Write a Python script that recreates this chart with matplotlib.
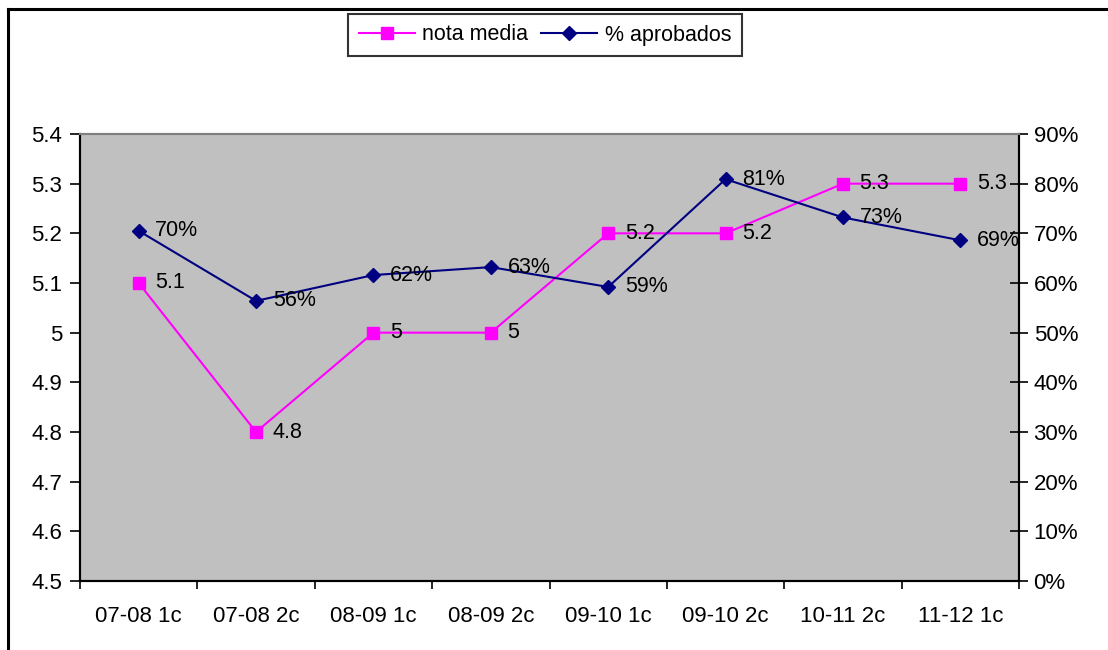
import matplotlib
matplotlib.use("Agg")
import matplotlib.pyplot as plt
from matplotlib.lines import Line2D
import numpy as np

plt.rcParams['font.family'] = ['Liberation Sans', 'DejaVu Sans']

categories = ["07-08 1c", "07-08 2c", "08-09 1c", "08-09 2c", "09-10 1c", "09-10 2c", "10-11 2c", "11-12 1c"]
nota_media = [5.1, 4.8, 5.0, 5.0, 5.2, 5.2, 5.3, 5.3]
nota_labels = ["5.1", "4.8", "5", "5", "5.2", "5.2", "5.3", "5.3"]
aprobados = [70.5, 56.4, 61.6, 63.2, 59.2, 80.9, 73.2, 68.6]
aprob_labels = ["70%", "56%", "62%", "63%", "59%", "81%", "73%", "69%"]
left_ticks = [4.5, 4.6, 4.7, 4.8, 4.9, 5.0, 5.1, 5.2, 5.3, 5.4]
left_tick_labels = ["4.5", "4.6", "4.7", "4.8", "4.9", "5", "5.1", "5.2", "5.3", "5.4"]
right_ticks = [0, 10, 20, 30, 40, 50, 60, 70, 80, 90]
right_tick_labels = ["0%", "10%", "20%", "30%", "40%", "50%", "60%", "70%", "80%", "90%"]

W, H = 1108, 650
fig = plt.figure(figsize=(W / 100, H / 100), dpi=100)
fig.patch.set_facecolor("white")

# outer border (top and left visible)
fig.add_artist(Line2D([7.5 / W, 7.5 / W], [0, 1 - 8.5 / H], transform=fig.transFigure, color="black", lw=2.2))
fig.add_artist(Line2D([7.5 / W, 1], [1 - 8.5 / H, 1 - 8.5 / H], transform=fig.transFigure, color="black", lw=2.2))

x0, x1, yt, yb = 80, 1019, 134, 581
ax = fig.add_axes([x0 / W, (H - yb) / H, (x1 - x0) / W, (yb - yt) / H])
ax.set_facecolor("#C0C0C0")
ax2 = ax.twinx()

n = len(categories)
x = np.arange(n)
ax.set_xlim(-0.5, n - 0.5)
ax.set_ylim(4.5, 5.4)
ax2.set_ylim(0, 90)

magenta = "#FF00FF"
navy = "#000080"

ax.plot(x, nota_media, color=magenta, lw=1.5, marker="s", markersize=8.5, markerfacecolor=magenta,
        markeredgecolor=magenta, zorder=3, clip_on=False)
ax2.plot(x, aprobados, color=navy, lw=1.5, marker="D", markersize=7.5, markerfacecolor=navy,
         markeredgecolor=navy, zorder=3, clip_on=False)

LBL = 15.5
TCK = 16
for xi, v, lab in zip(x, nota_media, nota_labels):
    ax.annotate(lab, (xi, v), xytext=(12, 0), textcoords="offset points", va="center", ha="left",
                fontsize=LBL, color="black")
for xi, v, lab in zip(x, aprobados, aprob_labels):
    ax2.annotate(lab, (xi, v), xytext=(12, 0), textcoords="offset points", va="center", ha="left",
                 fontsize=LBL, color="black", zorder=5)

# x ticks at category boundaries, labels centered
ax.set_xticks(np.arange(-0.5, n, 1.0))
ax.set_xticklabels([])
ax.set_xticks(x, minor=True)
ax.set_xticklabels(categories, minor=True, fontsize=TCK)
ax.tick_params(axis="x", which="major", direction="out", length=6, width=1.2, color="black")
ax.tick_params(axis="x", which="minor", length=0, pad=18)

ax.set_yticks(left_ticks)
ax.set_yticklabels(left_tick_labels, fontsize=TCK)
ax.tick_params(axis="y", direction="out", length=7, width=1.2, pad=6)

ax2.set_yticks(right_ticks)
ax2.set_yticklabels(right_tick_labels, fontsize=TCK)
ax2.tick_params(axis="y", direction="inout", length=13, width=1.2, pad=4)

for a in (ax, ax2):
    a.spines["top"].set_color("#808080")
    a.spines["top"].set_linewidth(1.5)
    a.spines["left"].set_linewidth(1.5)
    a.spines["bottom"].set_linewidth(1.5)
    a.spines["right"].set_linewidth(1.5)

# legend
h1 = Line2D([], [], color=magenta, lw=1.5, marker="s", markersize=8.5, markerfacecolor=magenta, markeredgecolor=magenta)
h2 = Line2D([], [], color=navy, lw=1.5, marker="D", markersize=7.5, markerfacecolor=navy, markeredgecolor=navy)
leg = fig.legend([h1, h2], ["nota media", "% aprobados"], loc="center", bbox_to_anchor=(545 / W, 1 - 35 / H),
                 ncol=2, frameon=True, fancybox=False, edgecolor="black", fontsize=LBL,
                 handlelength=2.6, handletextpad=0.35, columnspacing=0.6, borderpad=0.5)
leg.get_frame().set_linewidth(1.5)

fig.savefig("out.png", dpi=100)
